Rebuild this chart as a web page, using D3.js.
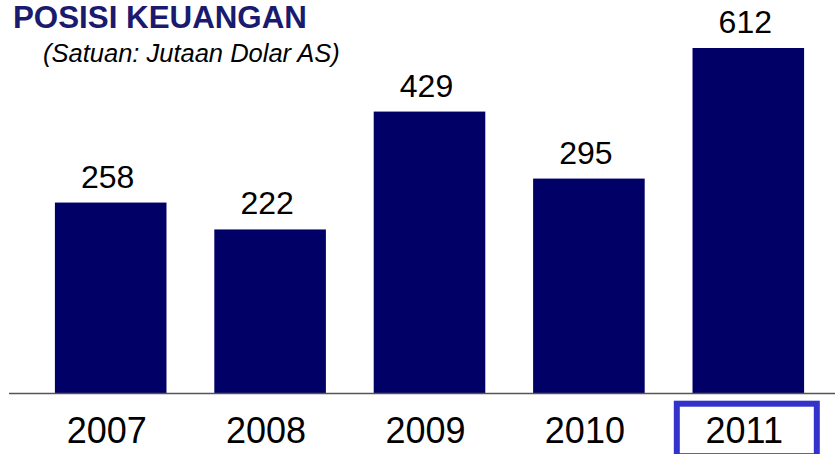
<!DOCTYPE html>
<html>
<head>
<meta charset="utf-8">
<script src="https://cdn.jsdelivr.net/npm/d3@7"></script>
<style>
  html, body { margin: 0; padding: 0; background: #fff; }
  svg { display: block; font-family: "Liberation Sans", Arial, sans-serif; }
</style>
</head>
<body>
<div id="chart"></div>
<script>
// data
const years = ['2007', '2008', '2009', '2010', '2011'];
const values = [258, 222, 429, 295, 612];
const highlightYear = '2011';

const width = 835;
const height = 454;
const baseY = 393;

const svg = d3.select('#chart')
    .append('svg')
    .attr('width', width)
    .attr('height', height);

const x = d3.scaleBand()
    .domain(years)
    .range([31, 828])
    .paddingInner(0.3)
    .paddingOuter(0.15);

// bar heights in the original follow a log-like scale
const y = d3.scaleLog()
    .domain([89, 612])
    .range([baseY, 48]);

// title
svg.append('text')
    .attr('x', 13)
    .attr('y', 28)
    .attr('font-size', 31.3)
    .attr('font-weight', 'bold')
    .attr('fill', '#1a1a6e')
    .text('POSISI KEUANGAN');

svg.append('text')
    .attr('x', 43)
    .attr('y', 62)
    .attr('font-size', 25.5)
    .attr('font-style', 'italic')
    .attr('fill', '#000')
    .text('(Satuan: Jutaan Dolar AS)');

// bars
const bars = svg.selectAll('.bar')
    .data(years.map((d, i) => ({ year: d, value: values[i] })))
    .enter().append('g')
    .attr('class', 'bar');

bars.append('rect')
    .attr('x', d => x(d.year))
    .attr('y', d => y(d.value))
    .attr('width', x.bandwidth())
    .attr('height', d => baseY - y(d.value))
    .attr('fill', '#000066');

bars.append('text')
    .attr('x', d => x(d.year) + x.bandwidth() / 2 - 3)
    .attr('y', d => y(d.value) - 15)
    .attr('text-anchor', 'middle')
    .attr('font-size', 32)
    .attr('fill', '#000')
    .text(d => d.value);

// baseline
svg.append('line')
    .attr('x1', 9)
    .attr('x2', width)
    .attr('y1', baseY + 0.5)
    .attr('y2', baseY + 0.5)
    .attr('stroke', '#555')
    .attr('stroke-width', 1.5);

// year labels
svg.selectAll('.year')
    .data(years)
    .enter().append('text')
    .attr('class', 'year')
    .attr('x', d => x(d) + x.bandwidth() / 2 - 4)
    .attr('y', 443)
    .attr('text-anchor', 'middle')
    .attr('font-size', 36)
    .attr('fill', '#000')
    .text(d => d);

// highlight box round the last year
const hx = x(highlightYear) + x.bandwidth() / 2 - 1.5;
svg.append('rect')
    .attr('x', hx - 70)
    .attr('y', 403.7)
    .attr('width', 140)
    .attr('height', 52.5)
    .attr('fill', 'none')
    .attr('stroke', '#3333cc')
    .attr('stroke-width', 6);
</script>
</body>
</html>
